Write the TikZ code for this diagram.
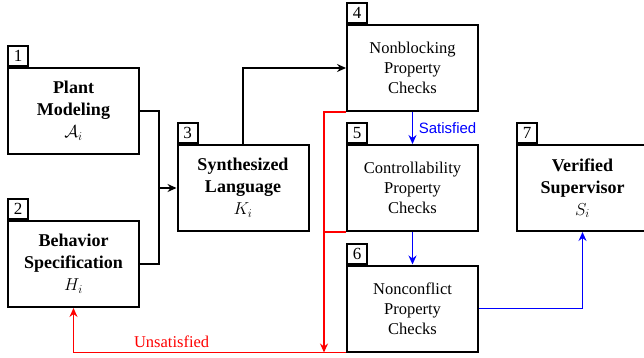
\documentclass[tikz,border=0pt]{standalone}
\usepackage{fontspec}
\setmainfont{Liberation Serif}
\newfontfamily\labelsans{Liberation Sans}
\usetikzlibrary{arrows.meta,calc}
\begin{document}
\begin{tikzpicture}[x=1pt,y=-1pt,
  stagebox/.style={draw,line width=2pt,minimum width=131pt,minimum height=86pt,
    inner sep=0pt,align=center},
  boldstage/.style={stagebox,font=\fontsize{18}{22}\selectfont\bfseries},
  plainstage/.style={stagebox,font=\fontsize{16.5}{20}\selectfont},
  numtag/.style={draw,line width=2pt,minimum width=20pt,minimum height=20pt,
    inner sep=0pt,anchor=south west,font=\fontsize{17}{17}\selectfont},
  flow/.style={line width=1.9pt},
  tip/.style={-{Stealth[length=9pt,width=8pt,inset=3pt]}}]
\useasboundingbox (0,0) rectangle (644,358);

% stages
\node[boldstage] (b1) at (73.5,111) {Plant\\Modeling\\$\mathcal{A}_i$};
\node[boldstage] (b2) at (73.5,264) {Behavior\\Specification\\$H_i$};
\node[boldstage] (b3) at (243,188) {Synthesized\\Language\\$K_i$};
\node[plainstage] (b4) at (412.5,68) {Nonblocking\\Property\\Checks};
\node[plainstage] (b5) at (412.5,188) {Controllability\\Property\\Checks};
\node[plainstage] (b6) at (412.5,308.5) {Nonconflict\\Property\\Checks};
\node[boldstage] (b7) at (582.5,188) {Verified\\Supervisor\\$S_i$};

% step numbers
\node[numtag] (n1) at (b1.north west) {1};
\node[numtag] (n2) at (b2.north west) {2};
\node[numtag] (n3) at (b3.north west) {3};
\node[numtag] (n4) at (b4.north west) {4};
\node[numtag] (n5) at (b5.north west) {5};
\node[numtag] (n6) at (b6.north west) {6};
\node[numtag] (n7) at (b7.north west) {7};

% synthesis inputs
\coordinate (merge) at ($(b1.east |- b3.west)+(19,0)$);
\draw[flow] (b1.east) -| (merge);
\draw[flow] (b2.east) -| (merge);
\draw[flow,tip] (merge) -- (b3.west);
\draw[flow,tip] (b3.north) |- (b4.west);

% satisfied path
\draw[flow,blue,tip] (b4.south) -- (b5.north)
  node[midway,right=2pt,text=blue,font=\labelsans\fontsize{15}{15}\selectfont] (sat) {Satisfied};
\draw[flow,blue,tip] (b5.south) -- (b6.north);
\draw[flow,blue,tip] (b6.east) -| (b7.south);

% unsatisfied feedback
\coordinate (rtop) at ($(b4.south west)+(-22,0)$);
\coordinate (rbot) at (rtop |- b6.south west);
\draw[red,line width=1.3pt] (b4.south west) -- (rtop) -- (rtop |- b5.south west);
\draw[red,flow,tip] (b5.south west) -- (rtop |- b5.south west) -- (rbot);
\draw[red,flow,tip] (b6.south west) -| (b2.south)
  node[pos=0.32,above=1pt,text=red,font=\fontsize{16.5}{16.5}\selectfont] (unsat) {Unsatisfied};
\end{tikzpicture}
\end{document}
